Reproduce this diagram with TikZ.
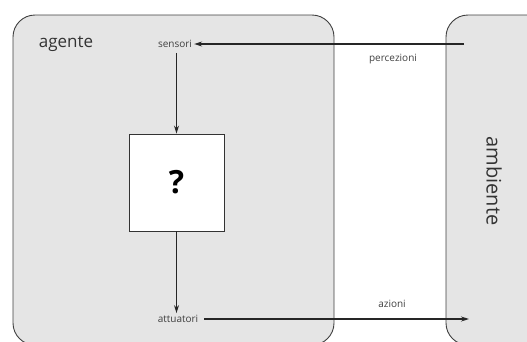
\documentclass[tikz,border=0pt]{standalone}
\usepackage{fontspec}
\setmainfont{Open Sans}
\usetikzlibrary{arrows.meta}
\begin{document}
\begin{tikzpicture}[x=1pt,y=-1pt,
  region/.style={draw=black!75, line width=0.9pt, fill=gray!20, rounded corners=22pt},
  flow/.style={draw=black!85, line width=1.2pt, -{Stealth[length=8pt,width=5pt]}},
  small/.style={font=\fontsize{10}{11}\selectfont, text=black!75, inner sep=2pt},
  big/.style={font=\fontsize{17}{18}\selectfont, text=black!80}]
  \useasboundingbox (0,0) rectangle (527,341);
  % the two regions: agent and environment
  \path[region] (13,15) rectangle (334,345);
  \path[region] (446,15) rectangle (560,345);
  % labels of the regions
  \node[big] (agente) at (66,44) {agente};
  \node[big, font=\fontsize{20}{22}\selectfont, rotate=-90] (ambiente) at (494,181) {ambiente};
  % sensors, decision box and actuators
  \node[small] (sensori) at (175,44) {sensori};
  \node[draw=black!80, line width=0.9pt, fill=white, minimum width=95pt, minimum height=97pt,
        font=\fontsize{32}{34}\selectfont\bfseries] (box) at (176.5,182.5) {?};
  \node[small] (attuatori) at (178,319) {attuatori};
  \coordinate (envin) at (464,44);
  \coordinate (envout) at (469,319);
  % connectors
  \draw[flow] (envin) -- (sensori.east);
  \draw[flow] ([yshift=-3pt]sensori.south -| box.north) -- (box.north);
  \draw[flow] (box.south) -- (box.south |- attuatori.north);
  \draw[flow] (attuatori.east) ++(4,0) -- (envout);
  \node[small] (percezioni) at (393,59) {percezioni};
  \node[small] (azioni) at (392,304) {azioni};
\end{tikzpicture}
\end{document}
